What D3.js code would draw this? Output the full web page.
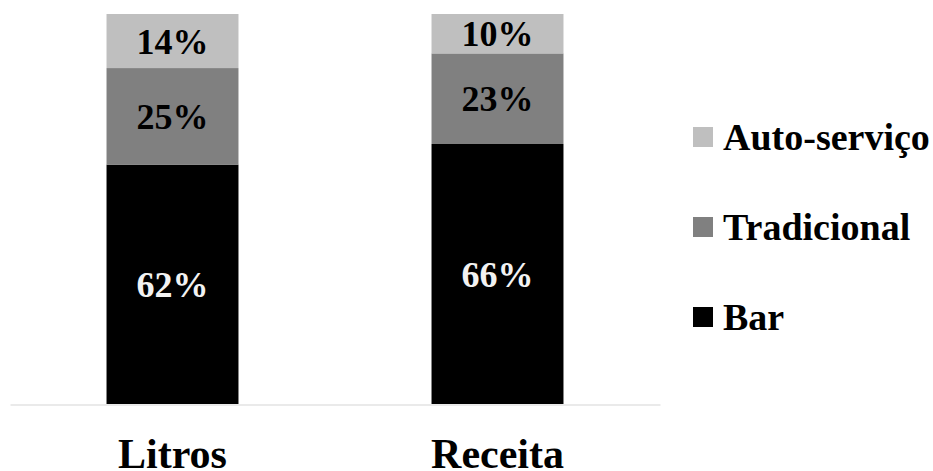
<!DOCTYPE html>
<html>
<head>
<meta charset="utf-8">
<script src="https://cdn.jsdelivr.net/npm/d3@7"></script>
<style>
  html, body { margin: 0; padding: 0; background: #fff; }
  svg { display: block; }
  svg text { font-family: "Times New Roman", "Liberation Serif", Tinos, serif !important; font-weight: bold; }
</style>
</head>
<body>
<svg id="chart" width="933" height="471"></svg>
<script>
// Channel share of volume (Litros) and revenue (Receita), in percent
const categories = ["Litros", "Receita"];
const seriesNames = ["Bar", "Tradicional", "Auto-serviço"];
const barValues = [62, 66];
const tradicionalValues = [25, 23];
const autoServicoValues = [14, 10];
const legendOrder = ["Auto-serviço", "Tradicional", "Bar"];

const colors = { "Bar": "#000000", "Tradicional": "#808080", "Auto-serviço": "#bfbfbf" };
const labelColors = { "Bar": "#f2f2f2", "Tradicional": "#000000", "Auto-serviço": "#000000" };

const rows = categories.map((c, i) => ({
  category: c,
  "Bar": barValues[i],
  "Tradicional": tradicionalValues[i],
  "Auto-serviço": autoServicoValues[i]
}));

const svg = d3.select("#chart");
const margin = { left: 10, right: 273, top: 14, bottom: 67 };
const W = 933, H = 471;

const x = d3.scaleBand()
  .domain(categories)
  .range([margin.left, W - margin.right])
  .paddingInner(0.594)
  .paddingOuter(0.297);

const y = d3.scaleLinear()
  .domain([0, 1])
  .range([H - margin.bottom, margin.top]);

// 100% stacked layout
const stacked = d3.stack()
  .keys(seriesNames)
  .offset(d3.stackOffsetExpand)(rows);

const layers = svg.append("g").selectAll("g")
  .data(stacked)
  .join("g")
  .attr("fill", d => colors[d.key]);

layers.selectAll("rect")
  .data(d => d)
  .join("rect")
  .attr("x", d => x(d.data.category))
  .attr("width", x.bandwidth())
  .attr("y", d => y(d[1]))
  .attr("height", d => y(d[0]) - y(d[1]));

// baseline axis
const xAxis = svg.append("g")
  .attr("transform", `translate(0,${y(0) + 0.5})`)
  .call(d3.axisBottom(x).tickSize(0).tickPadding(0));
xAxis.select(".domain").attr("stroke", "#e3e3e3").attr("stroke-width", 1.5);
xAxis.selectAll(".tick text")
  .attr("font-size", 42)
  .attr("fill", "#000")
  .attr("y", 63.5)
  .attr("dy", null);

// value labels
stacked.forEach(layer => {
  svg.append("g").selectAll("text")
    .data(layer)
    .join("text")
    .attr("x", d => x(d.data.category) + x.bandwidth() / 2)
    .attr("y", d => (y(d[0]) + y(d[1])) / 2)
    .attr("dy", "0.35em")
    .attr("text-anchor", "middle")
    .attr("font-size", 36)
    .attr("fill", labelColors[layer.key])
    .text(d => d.data[layer.key] + "%");
});

// legend
const legend = svg.append("g").attr("transform", "translate(693,127)");
const items = legend.selectAll("g")
  .data(legendOrder)
  .join("g")
  .attr("transform", (d, i) => `translate(0,${i * 90})`);
items.append("rect")
  .attr("width", 20).attr("height", 20)
  .attr("fill", d => colors[d]);
items.append("text")
  .attr("x", 30)
  .attr("y", 10)
  .attr("dy", "0.35em")
  .attr("font-size", 38)
  .attr("fill", "#000")
  .text(d => d);
</script>
</body>
</html>
